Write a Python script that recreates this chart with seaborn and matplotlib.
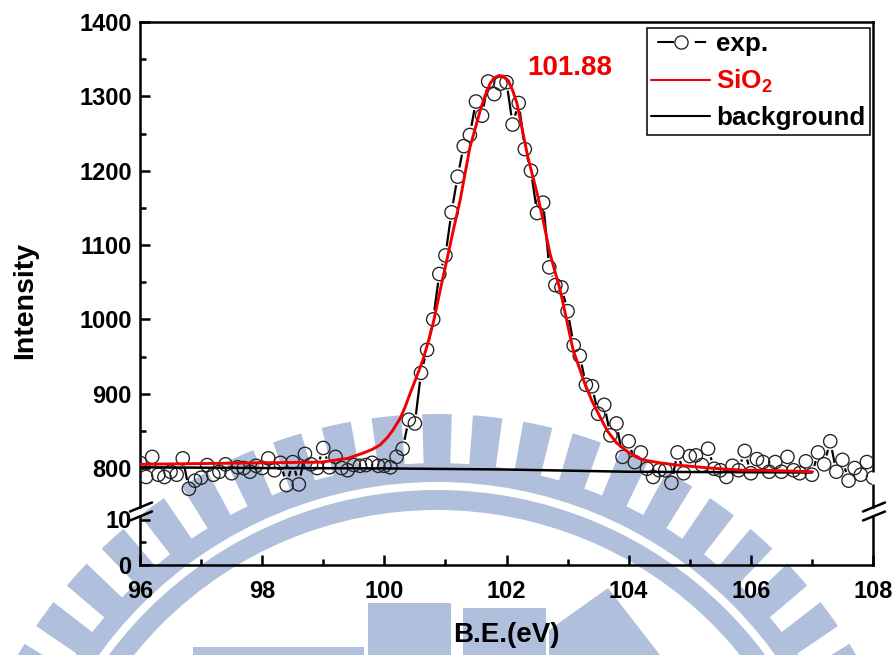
import numpy as np
import matplotlib
matplotlib.use('Agg')
import matplotlib.pyplot as plt
import seaborn as sns
from matplotlib.lines import Line2D
from matplotlib.patches import Wedge, Rectangle, Polygon
from matplotlib.collections import LineCollection

# Values
exp_intensity = [
    807, 788, 815, 791, 788, 795, 791, 813, 772, 783, 787, 804, 791, 795, 805, 793, 801, 800, 795, 803,
    800, 813, 797, 807, 777, 808, 778, 819, 805, 800, 827, 801, 815, 800, 797, 804, 803, 804, 807, 803,
    803, 801, 815, 826, 865, 860, 928, 959, 1000, 1061, 1086, 1144, 1192, 1233, 1248, 1293, 1274, 1320, 1303, 1317,
    1319, 1262, 1291, 1229, 1200, 1143, 1157, 1070, 1046, 1043, 1011, 965, 951, 912, 910, 873, 885, 844, 860, 815,
    836, 808, 821, 799, 788, 797, 797, 780, 821, 793, 816, 817, 804, 826, 799, 797, 788, 803, 797, 823,
    793, 812, 808, 795, 808, 795, 815, 797, 793, 809, 791, 821, 805, 836, 795, 811, 783, 800, 791, 808, 787,
]
exp_x = [96 + 0.1 * i for i in range(len(exp_intensity))]

fit_x = [96, 97, 98, 98.98, 99.4, 99.65, 99.8, 99.93, 100.05, 100.14, 100.26, 100.34, 100.42, 100.52, 100.63, 100.72,
         100.8, 100.94, 101.04, 101.14, 101.24, 101.4, 101.57, 101.65, 101.73, 101.8, 101.88, 101.95, 102.03, 102.1,
         102.17, 102.35, 102.5, 102.6, 102.71, 102.88, 103.09, 103.28, 103.4, 103.53, 103.65, 103.8, 103.92,
         104.02, 104.12, 104.23, 104.51, 104.79, 105.33, 105.87, 106.2, 107.01]
fit_y = [805, 806, 807, 808, 813, 820, 825, 831, 841, 851, 867, 882, 900, 921, 945, 970,
         995, 1049, 1086, 1124, 1160, 1231, 1281, 1301, 1317, 1325, 1328, 1327, 1321, 1308,
         1291, 1218, 1170, 1133, 1089, 1039, 959, 914, 890, 869, 850, 834, 826,
         820, 815, 811, 807, 804, 800, 797, 797, 795]

bg_x = [96, 98, 100, 102, 104, 107]
bg_y = [801, 800, 799.5, 798, 795, 794]

x_major = [96, 98, 100, 102, 104, 106, 108]
x_minor = [97, 99, 101, 103, 105, 107]
y_major = [800, 900, 1000, 1100, 1200, 1300, 1400]
y_minor = [850, 950, 1050, 1150, 1250, 1350]

W, H = 896, 655
LEFT, RIGHT, TOP, UP_BOTTOM, LOW_TOP, BOTTOM = 140, 873, 22, 507, 516, 565
WM = '#b0c0dc'
FONT = 'Liberation Sans'

sns.set_theme(style='white')
plt.rcParams['font.family'] = [FONT, 'DejaVu Sans']
plt.rcParams['font.weight'] = 'bold'
plt.rcParams['text.color'] = 'black'
plt.rcParams['mathtext.fontset'] = 'custom'
plt.rcParams['mathtext.rm'] = FONT + ':bold'
plt.rcParams['mathtext.it'] = FONT + ':bold'
plt.rcParams['mathtext.bf'] = FONT + ':bold'

fig = plt.figure(figsize=(W / 100, H / 100), dpi=100, facecolor='white')


def box(top, bottom):
    return [LEFT / W, 1 - bottom / H, (RIGHT - LEFT) / W, (bottom - top) / H]


# watermark behind everything, in pixel units
bg = fig.add_axes([0, 0, 1, 1], zorder=0)
bg.set_xlim(0, W)
bg.set_ylim(H, 0)
bg.axis('off')
cx, cy = 437, 899
bg.add_patch(Wedge((cx, cy), 436, 180, 360, width=19, color=WM, lw=0))
bg.add_patch(Wedge((cx, cy), 409, 180, 360, width=20, color=WM, lw=0))
for k in range(-14, 15):
    mid = 270 + 6 * k
    bg.add_patch(Wedge((cx, cy), 485, mid - 1.75, mid + 1.75, width=50, color=WM, lw=0))
bg.add_patch(Rectangle((368, 603), 83, 60, color=WM, lw=0))
bg.add_patch(Rectangle((463, 608), 83, 50, color=WM, lw=0))
bg.add_patch(Rectangle((193, 647), 171, 10, color=WM, lw=0))
bg.add_patch(Polygon([(549, 630), (608, 588), (660, 655), (549, 655)], color=WM, lw=0))

ax = fig.add_axes(box(TOP, UP_BOTTOM), zorder=2)
low = fig.add_axes(box(LOW_TOP, BOTTOM), zorder=2)
for a in (ax, low):
    a.patch.set_alpha(0)
    a.set_xlim(96, 108)
    for s in a.spines.values():
        s.set_linewidth(1.8)
        s.set_color('black')
ax.set_ylim(800 - (UP_BOTTOM - 468) / 0.744, 800 + (468 - TOP) / 0.744)
low.set_ylim(0, (BOTTOM - LOW_TOP) / 4.55)

sns.scatterplot(x=exp_x, y=exp_intensity, ax=ax, s=92, marker='o', zorder=3)
pts = ax.collections[-1]
pts.set_facecolor('none')
pts.set_edgecolor('#222222')
pts.set_linewidth(0.95)

# exp. line only shows between the circles
p = ax.transData.transform(np.column_stack([exp_x, exp_intensity]))
segs = []
for a_, b_ in zip(p[:-1], p[1:]):
    d = np.hypot(*(b_ - a_))
    if d > 18:
        u = (b_ - a_) / d
        segs.append([a_ + u * 9, b_ - u * 9])
ax.add_collection(LineCollection(segs, colors='black', linewidths=1.6, transform=None, zorder=2))

sns.lineplot(x=bg_x, y=bg_y, ax=ax, color='black', lw=1.8, zorder=4, errorbar=None)
sns.lineplot(x=fit_x, y=fit_y, ax=ax, color='#f00000', lw=2.1, zorder=5, errorbar=None)
ax.set_xlabel('')
ax.set_ylabel('')

ax.spines['bottom'].set_visible(False)
low.spines['top'].set_visible(False)
ax.set_xticks([])
ax.set_yticks(y_major)
ax.set_yticks(y_minor, minor=True)
low.set_yticks([0, 10])
low.set_yticks([5], minor=True)
low.set_xticks(x_major)
low.set_xticks(x_minor, minor=True)
for a in (ax, low):
    a.tick_params(which='major', direction='in', length=7.5, width=1.8, left=True, bottom=True,
                  labelsize=17, color='black', labelcolor='black')
    a.tick_params(which='minor', direction='in', length=4, width=1.8, left=True, bottom=True, color='black')
    a.tick_params(axis='y', which='major', pad=6)
low.tick_params(axis='x', which='major', pad=10.5)

# axis break marks
over = fig.add_axes([0, 0, 1, 1], zorder=3)
over.set_xlim(0, W)
over.set_ylim(H, 0)
over.axis('off')
for xb in (141, 874):
    for yb in (507, 516):
        over.plot([xb - 11, xb + 11], [yb + 4.5, yb - 4.5], color='black', lw=1.8)
# right axis line is broken where the last circle sits
over.plot([RIGHT, RIGHT], [472, 484], color='white', lw=2.2, solid_capstyle='butt')

fig.text(25 / W, 1 - 300 / H, 'Intensity', rotation=90, ha='center', va='center', fontsize=20.5, zorder=5)
fig.text(506 / W, 1 - 635 / H, 'B.E.(eV)', ha='center', va='center', fontsize=20, zorder=5)
fig.text(570 / W, 1 - 68 / H, '101.88', ha='center', va='center', fontsize=20, color='#f00000', zorder=5)

handles = [
    Line2D([], [], color='black', lw=1.5, linestyle=(30.5, (8, 10, 5.5, 10)), marker='o', ms=9.5, mfc='none',
           mec='#222222', mew=0.95),
    Line2D([], [], color='#f00000', lw=1.5),
    Line2D([], [], color='black', lw=1.5),
]
leg = over.legend(handles, ['exp.', r'SiO$_2$', 'background'], loc='upper left',
                  bbox_to_anchor=(647 / W, 1 - 28 / H), bbox_transform=fig.transFigure, borderaxespad=0,
                  fontsize=18.7, handlelength=2.27, handletextpad=0.22, labelspacing=0.44, borderpad=0.17,
                  fancybox=False, framealpha=1, edgecolor='black', labelcolor=['black', '#f00000', 'black'])
leg.get_frame().set_linewidth(1.1)

fig.savefig('out.png', dpi=100)
